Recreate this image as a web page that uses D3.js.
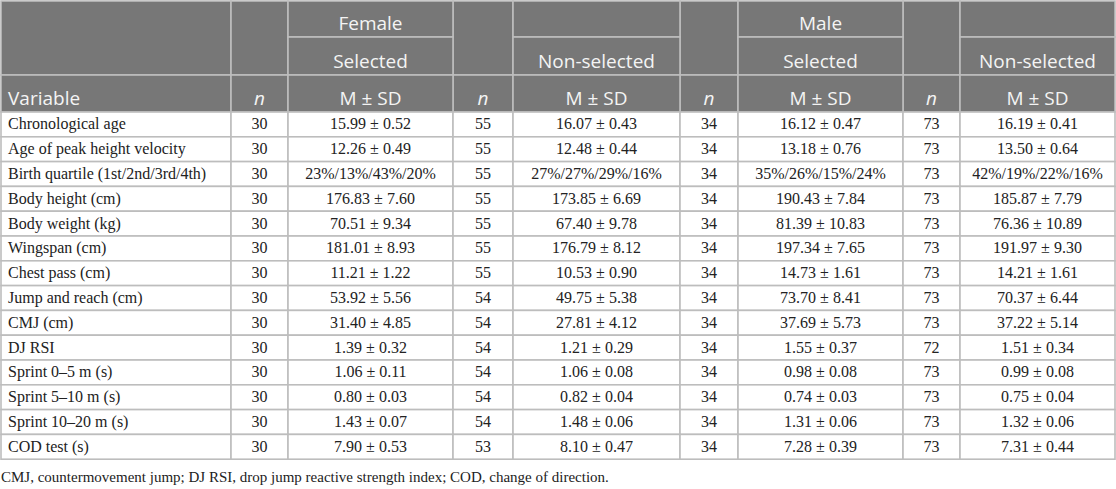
<!DOCTYPE html>
<html>
<head>
<meta charset="utf-8">
<script src="https://cdn.jsdelivr.net/npm/d3@7"></script>
<style>
  body { margin: 0; background: #fff; }
  svg { display: block; }
</style>
</head>
<body>
<div id="table"></div>
<script>
// table contents
var variables = [
  "Chronological age", "Age of peak height velocity", "Birth quartile (1st/2nd/3rd/4th)",
  "Body height (cm)", "Body weight (kg)", "Wingspan (cm)", "Chest pass (cm)",
  "Jump and reach (cm)", "CMJ (cm)", "DJ RSI", "Sprint 0\u20135 m (s)",
  "Sprint 5\u201310 m (s)", "Sprint 10\u201320 m (s)", "COD test (s)"
];
var femaleSelN = [30, 30, 30, 30, 30, 30, 30, 30, 30, 30, 30, 30, 30, 30];
var femaleSel = [
  "15.99 ± 0.52", "12.26 ± 0.49", "23%/13%/43%/20%", "176.83 ± 7.60", "70.51 ± 9.34",
  "181.01 ± 8.93", "11.21 ± 1.22", "53.92 ± 5.56", "31.40 ± 4.85", "1.39 ± 0.32",
  "1.06 ± 0.11", "0.80 ± 0.03", "1.43 ± 0.07", "7.90 ± 0.53"
];
var femaleNonN = [55, 55, 55, 55, 55, 55, 55, 54, 54, 54, 54, 54, 54, 53];
var femaleNon = [
  "16.07 ± 0.43", "12.48 ± 0.44", "27%/27%/29%/16%", "173.85 ± 6.69", "67.40 ± 9.78",
  "176.79 ± 8.12", "10.53 ± 0.90", "49.75 ± 5.38", "27.81 ± 4.12", "1.21 ± 0.29",
  "1.06 ± 0.08", "0.82 ± 0.04", "1.48 ± 0.06", "8.10 ± 0.47"
];
var maleSelN = [34, 34, 34, 34, 34, 34, 34, 34, 34, 34, 34, 34, 34, 34];
var maleSel = [
  "16.12 ± 0.47", "13.18 ± 0.76", "35%/26%/15%/24%", "190.43 ± 7.84", "81.39 ± 10.83",
  "197.34 ± 7.65", "14.73 ± 1.61", "73.70 ± 8.41", "37.69 ± 5.73", "1.55 ± 0.37",
  "0.98 ± 0.08", "0.74 ± 0.03", "1.31 ± 0.06", "7.28 ± 0.39"
];
var maleNonN = [73, 73, 73, 73, 73, 73, 73, 73, 73, 72, 73, 73, 73, 73];
var maleNon = [
  "16.19 ± 0.41", "13.50 ± 0.64", "42%/19%/22%/16%", "185.87 ± 7.79", "76.36 ± 10.89",
  "191.97 ± 9.30", "14.21 ± 1.61", "70.37 ± 6.44", "37.22 ± 5.14", "1.51 ± 0.34",
  "0.99 ± 0.08", "0.75 ± 0.04", "1.32 ± 0.06", "7.31 ± 0.44"
];
var groupLabels = ["Female", "", "Male", ""];
var selectionLabels = ["Selected", "Non-selected", "Selected", "Non-selected"];
var footnote = "CMJ, countermovement jump; DJ RSI, drop jump reactive strength index; COD, change of direction.";

var width = 1116, height = 489;
var colWidths = [230, 57, 165, 60, 167, 58, 165, 57, 155];
var headerRows = [36, 38, 37];
var rowH = 24.8;

var headBg = "#777777", gridCol = "#bdbdbd", headText = "#f4f4f4", bodyText = "#222";
var sansFont = "'Open Sans', 'Noto Sans', sans-serif";
var serifFont = "'Liberation Serif', 'DejaVu Serif', serif";

var colEdges = [1].concat(Array.from(d3.cumsum(colWidths), function(d){ return d + 1; }));
var headEdges = [1].concat(Array.from(d3.cumsum(headerRows), function(d){ return d + 1; }));
var tableTop = headEdges[3];

var y = d3.scaleBand()
  .domain(d3.range(variables.length))
  .range([tableTop, tableTop + rowH * variables.length]);

var svg = d3.select("#table").append("svg")
  .attr("width", width)
  .attr("height", height);

// header cells: col, row, rowspan, text
var headCells = [
  {c: 0, r: 0, rs: 2, t: ""},
  {c: 0, r: 2, rs: 1, t: "Variable", anchor: "start"}
];
[1, 3, 5, 7].forEach(function(c){
  headCells.push({c: c, r: 0, rs: 2, t: ""});
  headCells.push({c: c, r: 2, rs: 1, t: "n", italic: true});
});
[2, 4, 6, 8].forEach(function(c, i){
  headCells.push({c: c, r: 0, rs: 1, t: groupLabels[i]});
  headCells.push({c: c, r: 1, rs: 1, t: selectionLabels[i]});
  headCells.push({c: c, r: 2, rs: 1, t: "M ± SD"});
});

var head = svg.append("g").attr("class", "head");

head.selectAll("rect")
  .data(headCells)
  .enter()
  .append("rect")
  .attr("x", function(d){ return colEdges[d.c]; })
  .attr("y", function(d){ return headEdges[d.r]; })
  .attr("width", function(d){ return colEdges[d.c + 1] - colEdges[d.c]; })
  .attr("height", function(d){ return headEdges[d.r + d.rs] - headEdges[d.r]; })
  .attr("fill", headBg)
  .attr("stroke", gridCol)
  .attr("stroke-width", 1.6);

head.selectAll("text")
  .data(headCells.filter(function(d){ return d.t != ""; }))
  .enter()
  .append("text")
  .attr("x", function(d){
    if(d.anchor == "start") return colEdges[d.c] + 7;
    return (colEdges[d.c] + colEdges[d.c + 1]) / 2;
  })
  .attr("y", function(d){ return headEdges[d.r + d.rs] - 7; })
  .attr("text-anchor", function(d){ return d.anchor || "middle"; })
  .attr("font-family", sansFont)
  .attr("font-size", "19px")
  .attr("font-style", function(d){ return d.italic ? "italic" : "normal"; })
  .attr("fill", headText)
  .text(function(d){ return d.t; });

// body rows
var columns = [variables, femaleSelN, femaleSel, femaleNonN, femaleNon, maleSelN, maleSel, maleNonN, maleNon];
var bodyCells = [];
variables.forEach(function(v, r){
  columns.forEach(function(col, c){
    bodyCells.push({r: r, c: c, t: col[r]});
  });
});

var body = svg.append("g").attr("class", "body");

body.selectAll("rect")
  .data(bodyCells)
  .enter()
  .append("rect")
  .attr("x", function(d){ return colEdges[d.c]; })
  .attr("y", function(d){ return y(d.r); })
  .attr("width", function(d){ return colEdges[d.c + 1] - colEdges[d.c]; })
  .attr("height", y.bandwidth())
  .attr("fill", "#fff")
  .attr("stroke", gridCol)
  .attr("stroke-width", 1.6);

body.selectAll("text")
  .data(bodyCells)
  .enter()
  .append("text")
  .attr("x", function(d){
    if(d.c == 0) return colEdges[0] + 7;
    return (colEdges[d.c] + colEdges[d.c + 1]) / 2;
  })
  .attr("y", function(d){ return y(d.r) + y.bandwidth() / 2 + 5; })
  .attr("text-anchor", function(d){ return d.c == 0 ? "start" : "middle"; })
  .attr("font-family", serifFont)
  .attr("font-size", "16px")
  .attr("fill", bodyText)
  .text(function(d){ return d.t; });

svg.append("text")
  .attr("x", 1)
  .attr("y", y.range()[1] + 23)
  .attr("font-family", serifFont)
  .attr("font-size", "15px")
  .attr("fill", bodyText)
  .text(footnote);
</script>
</body>
</html>
